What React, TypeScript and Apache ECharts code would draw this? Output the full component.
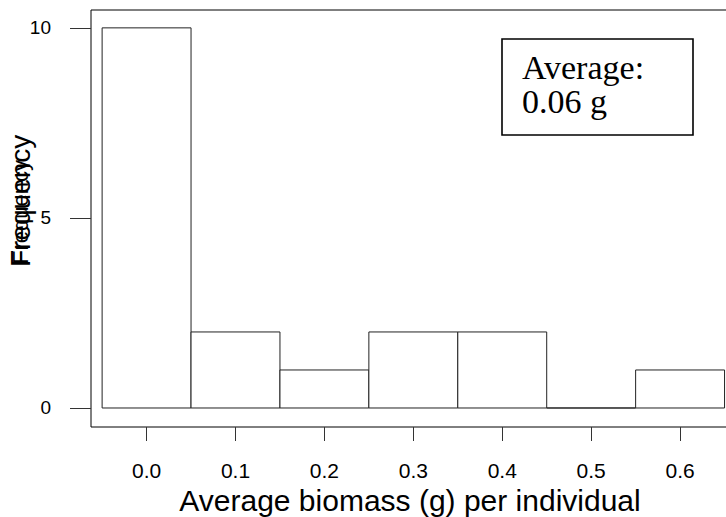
import React, { useEffect, useRef } from "react";
import * as echarts from "echarts";

const binStarts = [-0.05, 0.05, 0.15, 0.25, 0.35, 0.45, 0.55];
const binEnds = [0.05, 0.15, 0.25, 0.35, 0.45, 0.55, 0.65];
const counts = [10, 2, 1, 2, 2, 0, 1];
const xTicks = [0, 0.1, 0.2, 0.3, 0.4, 0.5, 0.6];
const yTicks = [0, 5, 10];
const xTitle = "Average biomass (g) per individual";
const yTitle = "Frequency";
const noteLines = ["Average:", "0.06 g"];

const SANS = '"Liberation Sans", Arial, Helvetica, sans-serif';
const SERIF = '"Liberation Serif", "Times New Roman", serif';

export default function App() {
  const ref = useRef<HTMLDivElement>(null);
  useEffect(() => {
    if (!ref.current) return;
    const chart = echarts.init(ref.current, undefined, { renderer: "svg" });
    const data = binStarts.map((s, i) => [s, binEnds[i], counts[i]]);
    chart.setOption({
      animation: false,
      backgroundColor: "#fff",
      grid: {
        left: 91,
        top: 10,
        right: -3,
        height: 417,
        containLabel: false,
        outerBoundsMode: "none",
        show: true,
        borderColor: "#000",
        borderWidth: 1,
        backgroundColor: "transparent",
      },
      xAxis: {
        type: "value",
        min: -0.0625,
        max: 0.655,
        name: xTitle,
        nameLocation: "middle",
        nameGap: 55,
        nameTextStyle: { fontFamily: SANS, fontSize: 30, color: "#000" },
        axisLine: { show: false, onZero: false },
        splitLine: { show: false },
        axisTick: {
          show: true,
          inside: false,
          length: 14,
          customValues: xTicks,
          lineStyle: { color: "#333", width: 1 },
        },
        axisLabel: {
          customValues: xTicks,
          margin: 33,
          fontFamily: SANS,
          fontSize: 21,
          color: "#000",
          formatter: (v: number) => v.toFixed(1),
        },
      },
      yAxis: {
        type: "value",
        min: -0.5,
        max: 10.47,
        axisLine: { show: false, onZero: false },
        splitLine: { show: false },
        axisTick: {
          show: true,
          inside: false,
          length: 21,
          customValues: yTicks,
          lineStyle: { color: "#333", width: 1 },
        },
        axisLabel: {
          customValues: yTicks,
          margin: 40,
          fontFamily: SANS,
          fontSize: 19,
          color: "#000",
        },
      },
      series: [
        {
          type: "custom",
          data,
          encode: { x: [0, 1], y: 2 },
          renderItem: (params: any, api: any) => {
            const x0 = api.value(0);
            const x1 = api.value(1);
            const c = api.value(2);
            const p0 = api.coord([x0, 0]);
            const p1 = api.coord([x1, c]);
            return {
              type: "rect",
              shape: {
                x: p0[0],
                y: p1[1],
                width: p1[0] - p0[0],
                height: p0[1] - p1[1],
              },
              style: { fill: "#fff", stroke: "#222", lineWidth: 1 },
            };
          },
        },
      ],
      graphic: [
        {
          type: "text",
          x: 34,
          y: 267,
          rotation: Math.PI / 2,
          style: {
            text: yTitle,
            font: `28px ${SANS}`,
            fill: "#000",
            textAlign: "left",
            textVerticalAlign: "bottom",
          },
        },
        {
          type: "text",
          x: 31,
          y: 264,
          rotation: Math.PI / 2,
          style: {
            text: yTitle,
            font: `22px ${SANS}`,
            fill: "#000",
            textAlign: "left",
            textVerticalAlign: "bottom",
          },
        },
        {
          type: "rect",
          shape: { x: 502, y: 39, width: 191, height: 96 },
          style: { fill: "#fff", stroke: "#000", lineWidth: 1.6 },
        },
        {
          type: "text",
          x: 522,
          y: 67,
          style: {
            text: noteLines[0],
            font: `34px ${SERIF}`,
            fill: "#000",
            textAlign: "left",
            textVerticalAlign: "middle",
          },
        },
        {
          type: "text",
          x: 522,
          y: 101,
          style: {
            text: noteLines[1],
            font: `34px ${SERIF}`,
            fill: "#000",
            textAlign: "left",
            textVerticalAlign: "middle",
          },
        },
      ],
    });
    return () => chart.dispose();
  }, []);
  return (
    <div
      ref={ref}
      style={{ position: "fixed", left: 0, top: 0, width: 726, height: 517 }}
    />
  );
}
